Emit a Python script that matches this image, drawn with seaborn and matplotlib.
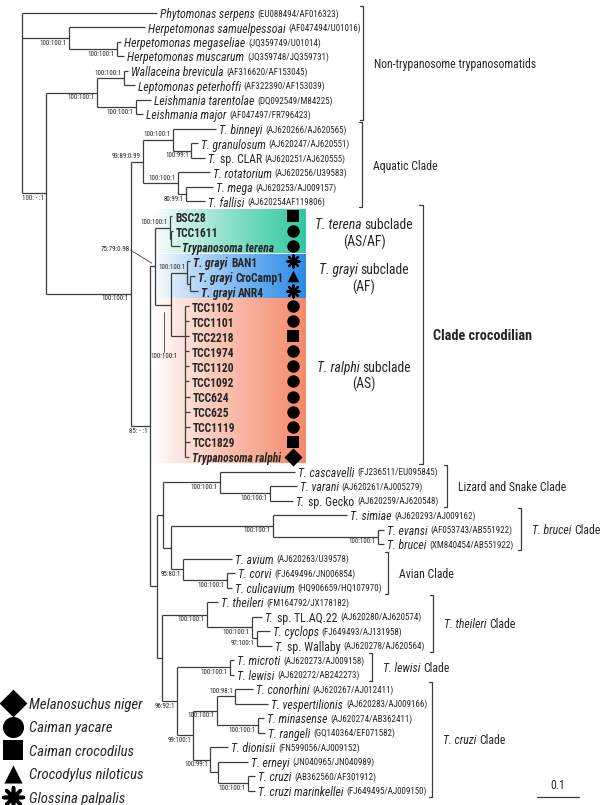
import matplotlib
matplotlib.use("Agg")
import matplotlib.pyplot as plt
from matplotlib import font_manager as fm
from matplotlib.collections import LineCollection
from matplotlib.colors import to_rgb
import numpy as np
import seaborn as sns

# ---- data -------------------------------------------------------------
# topology + branch lengths (substitutions/site), internal nodes named
TREE = (
    "(Pser:0.321,"
    "(Hsam:0.181,(Hmeg:0.010,Hmus:0.017)hm:0.114)herp:0.112,"
    "("
    "((Wbre:0.010,Lpet:0.026)wl:0.064,(Ltar:0.036,Lmaj:0.017)leish:0.093)ll:0.121,"
    "("
    "((Tbin:0.102,(Tgra:0.017,Tcla:0.033)gc:0.043)bin:0.071,"
    "(Trot:0.076,(Tmeg:0.064,Tfal:0.045)mf:0.019)rot:0.083)aq:0.029,"
    "("
    "((BSC28:0.005,(TCC1611:0.005,Tter:0.021)tt:0.002)ter:0.036,"
    "((BAN1:0.007,(CroCamp1:0.014,ANR4:0.019)ca:0.005)gra:0.040,"
    "(TCC1102:0.010,TCC1101:0.010,TCC2218:0.010,TCC1974:0.011,TCC1120:0.011,"
    "TCC1092:0.011,TCC624:0.012,TCC625:0.012,TCC1119:0.012,TCC1829:0.012,"
    "Tral:0.011)ral:0.033)gr:0.038)croc:0.012,"
    "("
    "((Tcas:0.179,(Tvar:0.064,Tgec:0.055)vg:0.119)liz:0.136,"
    "((Tsim:0.176,(Teva:0.014,Tbru:0.014)eb:0.250)bru:0.243,"
    "(Tavi:0.117,(Tcor:0.019,Tcul:0.012)cc:0.105)avi:0.029)n171:0.019)n163:0.014,"
    "((Tthe:0.026,(Ttla:0.024,(Tcyc:0.031,Twal:0.036)cw:0.012)tl:0.107)the:0.107,"
    "((Tmic:0.010,Tlew:0.010)lew:0.126,"
    "(((Tcon:0.043,Tves:0.079)cv:0.043,(Tmin:0.014,Tran:0.017)mr:0.098)a1:0.057,"
    "(Tdio:0.043,(Tern:0.071,(Tcru:0.017,Tmar:0.017)cm:0.071)b2:0.019)b1:0.040)"
    "cru:0.038)n177:0.036)n162:0.012"
    ")n157:0.017"
    ")n85:0.045"
    ")tryp:0.202"
    ")nA:0.057"
    ")root;"
)

SUPPORT = {
    "herp": "100:100:1", "hm": "100:100:1", "nA": "100: - :1", "ll": "100:100:1",
    "wl": "100:100:1", "leish": "100:100:1", "tryp": "100:100:1", "aq": "93:89:0.99",
    "bin": "100:100:1", "gc": "100:99:1", "rot": "100:100:1", "mf": "80:99:1",
    "n85": "85: - :1", "croc": "75:79:0.98", "ter": "100:100:1", "gr": "100:100:1",
    "gra": "100:100:1", "liz": "100:100:1", "vg": "100:100:1", "bru": "100:100:1",
    "eb": "100:100:1", "avi": "95:80:1", "cc": "100:100:1", "the": "100:100:1",
    "tl": "100:100:1", "cw": "97:100:1", "lew": "100:100:1", "n177": "96:92:1",
    "cru": "99:100:1", "a1": "100:100:1", "cv": "100:98:1", "mr": "100:100:1",
    "b1": "100:99:1", "cm": "100:100:1",
}

# (italic part, upright part, accession)
TIP_LABELS = {
    "Pser": ("Phytomonas serpens", "", "EU088494/AF016323"),
    "Hsam": ("Herpetomonas samuelpessoai", "", "AF047494/U01016"),
    "Hmeg": ("Herpetomonas megaseliae", "", "JQ359749/U01014"),
    "Hmus": ("Herpetomonas muscarum", "", "JQ359748/JQ359731"),
    "Wbre": ("Wallaceina brevicula", "", "AF316620/AF153045"),
    "Lpet": ("Leptomonas peterhoffi", "", "AF322390/AF153039"),
    "Ltar": ("Leishmania tarentolae", "", "DQ092549/M84225"),
    "Lmaj": ("Leishmania major", "", "AF047497/FR796423"),
    "Tbin": ("T. binneyi", "", "AJ620266/AJ620565"),
    "Tgra": ("T. granulosum", "", "AJ620247/AJ620551"),
    "Tcla": ("T.", "sp. CLAR", "AJ620251/AJ620555"),
    "Trot": ("T. rotatorium", "", "AJ620256/U39583"),
    "Tmeg": ("T. mega", "", "AJ620253/AJ009157"),
    "Tfal": ("T. fallisi", "", "AJ620254AF119806"),
    "BSC28": ("", "BSC28", ""),
    "TCC1611": ("", "TCC1611", ""),
    "Tter": ("Trypanosoma terena", "", ""),
    "BAN1": ("T. grayi", "BAN1", ""),
    "CroCamp1": ("T. grayi", "CroCamp1", ""),
    "ANR4": ("T. grayi", "ANR4", ""),
    "TCC1102": ("", "TCC1102", ""),
    "TCC1101": ("", "TCC1101", ""),
    "TCC2218": ("", "TCC2218", ""),
    "TCC1974": ("", "TCC1974", ""),
    "TCC1120": ("", "TCC1120", ""),
    "TCC1092": ("", "TCC1092", ""),
    "TCC624": ("", "TCC624", ""),
    "TCC625": ("", "TCC625", ""),
    "TCC1119": ("", "TCC1119", ""),
    "TCC1829": ("", "TCC1829", ""),
    "Tral": ("Trypanosoma ralphi", "", ""),
    "Tcas": ("T. cascavelli", "", "FJ236511/EU095845"),
    "Tvar": ("T. varani", "", "AJ620261/AJ005279"),
    "Tgec": ("T.", "sp. Gecko", "AJ620259/AJ620548"),
    "Tsim": ("T. simiae", "", "AJ620293/AJ009162"),
    "Teva": ("T. evansi", "", "AF053743/AB551922"),
    "Tbru": ("T. brucei", "", "XM840454/AB551922"),
    "Tavi": ("T. avium", "", "AJ620263/U39578"),
    "Tcor": ("T. corvi", "", "FJ649496/JN006854"),
    "Tcul": ("T. culicavium", "", "HQ906659/HQ107970"),
    "Tthe": ("T. theileri", "", "FM164792/JX178182"),
    "Ttla": ("T.", "sp. TL.AQ.22", "AJ620280/AJ620574"),
    "Tcyc": ("T. cyclops", "", "FJ649493/AJ131958"),
    "Twal": ("T.", "sp. Wallaby", "AJ620278/AJ620564"),
    "Tmic": ("T. microti", "", "AJ620273/AJ009158"),
    "Tlew": ("T. lewisi", "", "AJ620272/AB242273"),
    "Tcon": ("T. conorhini", "", "AJ620267/AJ012411"),
    "Tves": ("T. vespertilionis", "", "AJ620283/AJ009166"),
    "Tmin": ("T. minasense", "", "AJ620274/AB362411"),
    "Tran": ("T. rangeli", "", "GQ140364/EF071582"),
    "Tdio": ("T. dionisii", "", "FN599056/AJ009152"),
    "Tern": ("T. erneyi", "", "JN040965/JN040989"),
    "Tcru": ("T. cruzi", "", "AB362560/AF301912"),
    "Tmar": ("T. cruzi marinkellei", "", "FJ649495/AJ009150"),
}

HOST_SPECIES = ["Melanosuchus niger", "Caiman yacare", "Caiman crocodilus",
                "Crocodylus niloticus", "Glossina palpalis"]
ISOLATE_HOST = {
    "BSC28": "Caiman crocodilus", "TCC1611": "Caiman yacare", "Tter": "Caiman yacare",
    "BAN1": "Glossina palpalis", "CroCamp1": "Crocodylus niloticus", "ANR4": "Glossina palpalis",
    "TCC1102": "Caiman yacare", "TCC1101": "Caiman yacare", "TCC2218": "Caiman crocodilus",
    "TCC1974": "Caiman yacare", "TCC1120": "Caiman yacare", "TCC1092": "Caiman yacare",
    "TCC624": "Caiman yacare", "TCC625": "Caiman yacare", "TCC1119": "Caiman yacare",
    "TCC1829": "Caiman crocodilus", "Tral": "Melanosuchus niger",
}

CLADE_NAMES = [("", "Non-trypanosome trypanosomatids"), ("", "Aquatic Clade"),
               ("", "Lizard and Snake Clade"), ("T. brucei", "Clade"), ("", "Avian Clade"),
               ("T. theileri", "Clade"), ("T. lewisi", "Clade"), ("T. cruzi", "Clade")]
CLADE_SPANS = [("Pser", "Lmaj"), ("Tbin", "Tfal"), ("Tcas", "Tgec"), ("Tsim", "Tbru"),
               ("Tavi", "Tcul"), ("Tthe", "Twal"), ("Tmic", "Tlew"), ("Tcon", "Tmar")]

SUBCLADE_NAMES = [("T. terena", "subclade", "(AS/AF)"), ("T. grayi", "subclade", "(AF)"),
                  ("T. ralphi", "subclade", "(AS)")]
SUBCLADE_SPANS = [("BSC28", "Tter"), ("BAN1", "ANR4"), ("TCC1102", "Tral")]

# ---- layout / style ---------------------------------------------------
W, H = 600, 805
ROOT_PX, PPU = 22, 420.0          # 0.1 subst/site = 42 px
ROW_Y0, ROW_STEP, ROW_BIG = 13, 14.5, 15.0
NODE_ROW = {"ral": "TCC2218"}     # polytomy joined at this row, as drawn
CAPTION_SPANS = [("BSC28", "Tter"), ("BAN1", "ANR4"), ("TCC1102", "TCC1829")]
LINE_C = "#3c3c3c"
SUB_COLORS = ["#30c8a0", "#2a8ae8", "#f5896a"]
BRACKET_X = [363, 362, 447, 521, 388, 433, 372, 432]
ABOVE = {"wl", "aq", "bin", "rot", "ter", "gra", "cv"}
MARKERS = {"Melanosuchus niger": "D", "Caiman yacare": "o", "Caiman crocodilus": "s",
           "Crocodylus niloticus": "^", "Glossina palpalis": (8, 2, 0)}


def pick_font():
    entries = fm.fontManager.ttflist
    names = {f.name for f in entries}
    for p in ["Liberation Sans Narrow", "Arial Narrow", "Roboto Condensed",
              "Noto Sans Condensed", "Open Sans Condensed", "DejaVu Sans Condensed"]:
        if p in names:
            return p, "normal", 1.0
    for fam in ["Liberation Sans", "Roboto", "Noto Sans", "Open Sans", "DejaVu Sans"]:
        if any(f.name == fam and "cond" in str(f.stretch) for f in entries):
            return fam, "condensed", 0.95
    return "Liberation Sans", "normal", 0.82


FAMILY, STRETCH, FS = pick_font()

sns.set_theme(style="white")
plt.rcParams["font.family"] = [FAMILY, "DejaVu Sans"]
plt.rcParams["font.stretch"] = STRETCH

fig = plt.figure(figsize=(W / 100, H / 100), dpi=100)
ax = fig.add_axes([0, 0, 1, 1])
ax.set_axis_off()


def X(px):
    return (px - ROOT_PX) / PPU


ax.set_xlim(X(0), X(W))
ax.set_ylim(H, 0)
renderer = fig.canvas.get_renderer()


def parse_newick(s):
    pos = 0

    def node():
        nonlocal pos
        kids = []
        if s[pos] == "(":
            pos += 1
            while True:
                kids.append(node())
                if s[pos] == ",":
                    pos += 1
                    continue
                pos += 1
                break
        st = pos
        while s[pos] not in ":,();":
            pos += 1
        name = s[st:pos]
        bl = 0.0
        if s[pos] == ":":
            pos += 1
            st = pos
            while s[pos] not in ",();":
                pos += 1
            bl = float(s[st:pos])
        return {"name": name, "length": bl, "children": kids}

    return node()


def walk(n):
    yield n
    for c in n["children"]:
        yield from walk(c)


tree = parse_newick(TREE)
nodes = {n["name"]: n for n in walk(tree)}
leaves = [n for n in walk(tree) if not n["children"]]
croc_set = {n["name"] for n in walk(nodes["croc"]) if not n["children"]}

# rows
y = ROW_Y0
for i, lf in enumerate(leaves):
    if i:
        big = lf["name"] in croc_set or leaves[i - 1]["name"] in croc_set
        y += ROW_BIG if big else ROW_STEP
    lf["y"] = y


def place(n, x0):
    n["x"] = x0 + n["length"]
    for c in n["children"]:
        place(c, n["x"])
    if n["children"]:
        if n["name"] in NODE_ROW:
            n["y"] = nodes[NODE_ROW[n["name"]]]["y"]
        else:
            n["y"] = 0.5 * (n["children"][0]["y"] + n["children"][-1]["y"])


tree["length"] = 0.0
place(tree, 0.0)

# ---- coloured subclade boxes -----------------------------------------
for (a, b), col in zip(SUBCLADE_SPANS, SUB_COLORS):
    y0 = nodes[a]["y"] - ROW_BIG / 2 + 0.5
    y1 = nodes[b]["y"] + ROW_BIG / 2 - 0.5
    t = np.linspace(0, 1, 256)[None, :, None] ** 0.85
    grad = (1 - t) * np.ones(3) + t * np.array(to_rgb(col))
    ax.imshow(grad, extent=(X(154), X(306), y1, y0), aspect="auto", zorder=0,
              interpolation="bilinear")

# ---- branches ---------------------------------------------------------
segs = []
for n in walk(tree):
    if not n["children"]:
        continue
    ys = [c["y"] for c in n["children"]] + [n["y"]]
    segs.append([(n["x"], min(ys)), (n["x"], max(ys))])
    for c in n["children"]:
        segs.append([(n["x"], c["y"]), (c["x"], c["y"])])
ax.add_collection(LineCollection(segs, colors=LINE_C, linewidths=0.9, zorder=2))


def draw_segments(x_px, y_px, parts, align="left", gap=2.5):
    texts, widths = [], []
    for s, kw in parts:
        if not s:
            continue
        t = ax.text(0, y_px, s, ha="left", va="center_baseline", zorder=4, **kw)
        texts.append(t)
        widths.append(t.get_window_extent(renderer).width)
    total = sum(widths) + gap * (len(widths) - 1)
    x = x_px - total / 2 if align == "center" else x_px
    for t, w in zip(texts, widths):
        t.set_x(X(x))
        x += w + gap


# ---- tip labels -------------------------------------------------------
for lf in leaves:
    ital, plain, acc = TIP_LABELS[lf["name"]]
    xp = lf["x"] * PPU + ROOT_PX + 3
    if lf["name"] in croc_set:
        parts = [(ital, dict(fontsize=8.3 * FS, style="italic", weight="bold")),
                 (plain, dict(fontsize=8.3 * FS, weight="bold"))]
    else:
        parts = [(ital, dict(fontsize=8.5 * FS, style="italic")),
                 (plain, dict(fontsize=8.5 * FS)),
                 ("(%s)" % acc if acc else "", dict(fontsize=6.5 * FS))]
    draw_segments(xp, lf["y"], parts, gap=3)

# ---- support values ---------------------------------------------------
SUP_FS = 5.0 * FS
for name, lab in SUPPORT.items():
    n = nodes[name]
    xp = n["x"] * PPU + ROOT_PX
    if name == "croc":
        ax.text(X(xp - 25), n["y"] - 17, lab, fontsize=SUP_FS, ha="right", va="center")
        ax.plot([X(xp - 24), X(xp - 3)], [n["y"] - 16, n["y"] - 3], color=LINE_C, lw=0.6)
    elif name == "gr":
        ax.text(X(xp - 7), n["y"] + 52, lab, fontsize=SUP_FS, ha="center", va="center")
        ax.plot([X(xp - 7)] * 2, [n["y"] + 7, n["y"] + 47], color=LINE_C, lw=0.6)
    elif name in ABOVE:
        ax.text(X(xp - 2), n["y"] - 1.5, lab, fontsize=SUP_FS, ha="right", va="bottom")
    else:
        ax.text(X(xp - 2), n["y"] + 1.5, lab, fontsize=SUP_FS, ha="right", va="top")

# ---- host symbols -----------------------------------------------------
for host in HOST_SPECIES:
    ys = [nodes[k]["y"] for k, h in ISOLATE_HOST.items() if h == host]
    m = MARKERS[host]
    if isinstance(m, tuple):
        ax.scatter([X(293)] * len(ys), ys, marker=m, s=75, color="black",
                   linewidths=1.6, zorder=5)
    else:
        sz = {"D": 85, "o": 80, "s": 65, "^": 70}[m]
        sns.scatterplot(x=[X(293)] * len(ys), y=ys, marker=m, s=sz, color="black",
                        linewidth=0, ax=ax, legend=False, zorder=5)

# subclade captions
for (it, word, region), (a, b) in zip(SUBCLADE_NAMES, CAPTION_SPANS):
    yc = 0.5 * (nodes[a]["y"] + nodes[b]["y"])
    draw_segments(364, yc - 8, [(it, dict(fontsize=9.8 * FS, style="italic")),
                                (word, dict(fontsize=9.8 * FS))], align="center", gap=2.5)
    ax.text(X(364), yc + 9, region, fontsize=9.8 * FS, ha="center", va="center_baseline")

# crocodilian bracket
yt = nodes["BSC28"]["y"] - 11
yb = nodes["Tral"]["y"] + 7
ax.plot([X(419), X(423), X(423), X(419)], [yt, yt, yb, yb], color=LINE_C, lw=0.9)
ax.text(X(433), 0.5 * (yt + yb), "Clade crocodilian", fontsize=10.3 * FS,
        weight="bold", ha="left", va="center_baseline")

# clade brackets
for (it, word), (a, b), bx in zip(CLADE_NAMES, CLADE_SPANS, BRACKET_X):
    yt = nodes[a]["y"] - 7
    yb = nodes[b]["y"] + 6
    ax.plot([X(bx - 3), X(bx), X(bx), X(bx - 3)], [yt, yt, yb, yb], color=LINE_C, lw=0.9)
    draw_segments(bx + 11, 0.5 * (yt + yb), [(it, dict(fontsize=8.5 * FS, style="italic")),
                                             (word, dict(fontsize=8.5 * FS))], gap=2.5)

# ---- host legend ------------------------------------------------------
for i, host in enumerate(HOST_SPECIES):
    yl = 703 + i * 23.6
    m = MARKERS[host]
    if isinstance(m, tuple):
        ax.scatter([X(13)], [yl], marker=m, s=190, color="black", linewidths=2.6)
    else:
        sz = {"D": 200, "o": 230, "s": 190, "^": 170}[m]
        sns.scatterplot(x=[X(13)], y=[yl], marker=m, s=sz, color="black",
                        linewidth=0, ax=ax, legend=False)
    ax.text(X(29), yl, host, fontsize=10.6 * FS, style="italic", ha="left",
            va="center_baseline")

# ---- scale bar --------------------------------------------------------
ax.plot([X(537), X(537) + 0.1], [797, 797], color=LINE_C, lw=0.9)
ax.text(X(537) + 0.05, 789, "0.1", fontsize=8.5 * FS, ha="center", va="baseline")

ax.set_xlim(X(0), X(W))
ax.set_ylim(H, 0)
fig.savefig("out.png", dpi=100)
